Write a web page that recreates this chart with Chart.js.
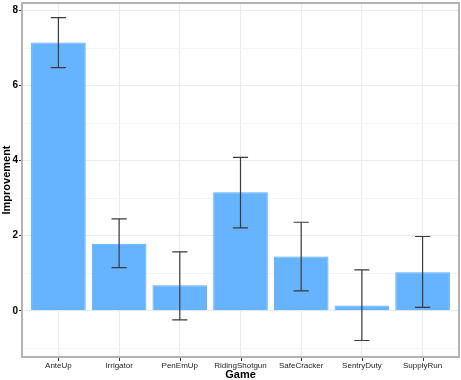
<!DOCTYPE html>
<html>
<head>
<meta charset="utf-8">
<script src="https://cdn.jsdelivr.net/npm/chart.js@4"></script>
<style>
  html, body { margin: 0; padding: 0; background: #fff; }
  #wrap { width: 461px; height: 380px; }
</style>
</head>
<body>
<div id="wrap"><canvas id="games"></canvas></div>
<script>
const games = ["AnteUp", "Irrigator", "PenEmUp", "RidingShotgun", "SafeCracker", "SentryDuty", "SupplyRun"];
const improvement = [7.15, 1.79, 0.68, 3.16, 1.45, 0.14, 1.03];
const errLow = [6.48, 1.15, -0.24, 2.21, 0.53, -0.79, 0.09];
const errHigh = [7.81, 2.45, 1.57, 4.09, 2.36, 1.09, 1.98];
const yTicks = [-1, 0, 1, 2, 3, 4, 5, 6, 7, 8];

// error bars + panel border
const errorBars = {
  id: "errorBars",
  afterDatasetsDraw(chart) {
    const { ctx, scales: { x, y } } = chart;
    const half = (x.getPixelForValue(1) - x.getPixelForValue(0)) * 0.125;
    ctx.save();
    ctx.strokeStyle = "#3a3a3a";
    ctx.lineWidth = 1.2;
    games.forEach((g, i) => {
      const px = x.getPixelForValue(i);
      const lo = y.getPixelForValue(errLow[i]);
      const hi = y.getPixelForValue(errHigh[i]);
      ctx.beginPath();
      ctx.moveTo(px, lo); ctx.lineTo(px, hi);
      ctx.moveTo(px - half, lo); ctx.lineTo(px + half, lo);
      ctx.moveTo(px - half, hi); ctx.lineTo(px + half, hi);
      ctx.stroke();
    });
    const a = chart.chartArea;
    ctx.strokeStyle = "#b3b3b3";
    ctx.lineWidth = 2;
    ctx.strokeRect(a.left, a.top, a.right - a.left, a.bottom - a.top);
    // small tick marks below the panel
    ctx.strokeStyle = "#333";
    ctx.lineWidth = 1;
    games.forEach((g, i) => {
      const px = Math.round(x.getPixelForValue(i)) + 0.5;
      ctx.beginPath();
      ctx.moveTo(px, a.bottom + 1);
      ctx.lineTo(px, a.bottom + 4);
      ctx.stroke();
    });
    ctx.restore();
  }
};

const ctx = document.getElementById("games");
new Chart(ctx, {
  type: "bar",
  data: {
    datasets: [{
      label: "Improvement",
      data: improvement.map((v, i) => ({ x: i, y: v })),
      backgroundColor: "#66b3ff",
      borderColor: "#56a8f7",
      borderWidth: 1,
      categoryPercentage: 0.9,
      barPercentage: 1.0,
    }],
  },
  options: {
    responsive: true,
    maintainAspectRatio: false,
    animation: false,
    layout: { padding: { top: 3, right: 2, left: 0, bottom: 0 } },
    plugins: { legend: { display: false }, tooltip: { enabled: false } },
    scales: {
      x: {
        type: "linear",
        offset: false,
        min: -0.6,
        max: 6.6,
        afterBuildTicks: (s) => { s.ticks = games.map((g, i) => ({ value: i })); },
        afterFit: (s) => { s.height = 23; s.paddingLeft = 0; s.paddingRight = 0; },
        ticks: {
          autoSkip: false,
          maxRotation: 0,
          padding: 1,
          color: "#222",
          font: { family: "Liberation Sans, Arial", size: 8 },
          callback: (v) => games[v],
        },
        grid: { offset: false, color: "#ebebeb", lineWidth: 1, tickLength: 3, tickColor: "rgba(0,0,0,0)" },
        border: { display: false },
        title: {
          display: true,
          text: "Game",
          color: "#000",
          padding: { top: 0, bottom: -2 },
          font: { family: "Liberation Sans, Arial", size: 11, weight: "bold" },
        },
      },
      y: {
        min: -1.23,
        max: 8.2,
        afterBuildTicks: (s) => { s.ticks = yTicks.map((v) => ({ value: v })); },
        afterFit: (s) => { s.width = 22; s.paddingTop = 0; s.paddingBottom = 0; },
        ticks: {
          padding: 1,
          color: "#000",
          font: { family: "Liberation Sans, Arial", size: 10, weight: "bold" },
          callback: (v) => (v % 2 === 0 && v >= 0 ? String(v) : ""),
        },
        grid: {
          color: (c) => (c.tick && c.tick.value % 2 === 0 ? "#ebebeb" : "#f5f5f5"),
          lineWidth: 1,
          tickLength: 3,
          tickColor: (c) => (c.tick && c.tick.value % 2 === 0 ? "#333" : "rgba(0,0,0,0)"),
        },
        border: { display: false },
        title: {
          display: true,
          text: "Improvement",
          color: "#000",
          padding: { top: 0, bottom: 0 },
          font: { family: "Liberation Sans, Arial", size: 11, weight: "bold" },
        },
      },
    },
  },
  plugins: [errorBars],
});
</script>
</body>
</html>
